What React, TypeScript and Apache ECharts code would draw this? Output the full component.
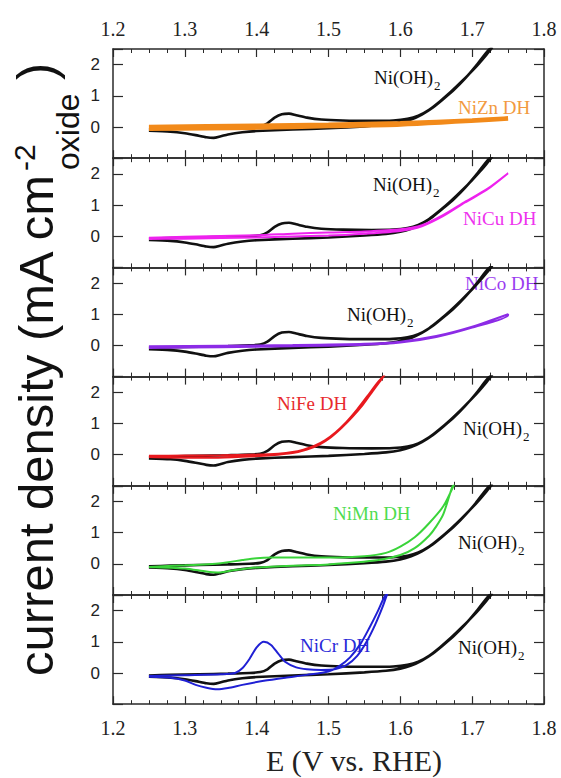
import React, { useEffect, useRef } from 'react';
import * as echarts from 'echarts';

const xTickLabels = ['1.2', '1.3', '1.4', '1.5', '1.6', '1.7', '1.8'];
const yTickLabels = ['0', '1', '2'];
const panelNames = ['NiZn DH', 'NiCu DH', 'NiCo DH', 'NiFe DH', 'NiMn DH', 'NiCr DH'];
const panelColors = ['#f28a1a', '#ee22ee', '#8c2be6', '#e8191e', '#3ad43a', '#2020d4'];
const panelLabelColors = ['#f29a40', '#ee33ee', '#9a3cf0', '#e82a2e', '#4fdc4f', '#2a2ad8'];

// Ni(OH)2 reference CV (same in every panel), E (V) vs current density
const niOH2: [number, number][] = [
  [1.25, -0.08], [1.28, -0.06], [1.32, -0.04], [1.36, -0.02], [1.39, 0.0], [1.405, 0.03],
  [1.415, 0.12], [1.425, 0.3], [1.435, 0.41], [1.445, 0.43], [1.455, 0.38], [1.47, 0.3],
  [1.49, 0.24], [1.52, 0.21], [1.56, 0.2], [1.59, 0.21], [1.61, 0.26], [1.625, 0.36],
  [1.64, 0.55], [1.655, 0.82], [1.67, 1.12], [1.685, 1.45], [1.7, 1.8], [1.71, 2.05],
  [1.72, 2.32], [1.728, 2.55],
  [1.722, 2.45], [1.705, 1.95], [1.69, 1.55], [1.675, 1.2], [1.66, 0.9], [1.645, 0.62],
  [1.63, 0.4], [1.615, 0.24], [1.6, 0.14], [1.58, 0.07], [1.55, 0.02], [1.5, -0.04],
  [1.45, -0.08], [1.4, -0.13], [1.38, -0.17], [1.36, -0.24], [1.35, -0.3], [1.34, -0.35],
  [1.33, -0.33], [1.315, -0.26], [1.3, -0.2], [1.28, -0.15], [1.25, -0.12],
];

const niZn: [number, number][] = [
  [1.25, 0.0], [1.4, 0.04], [1.5, 0.07], [1.6, 0.12], [1.7, 0.21], [1.75, 0.27],
  [1.75, 0.25], [1.6, 0.08], [1.5, 0.03], [1.4, -0.02], [1.25, -0.06],
];

const niCu: [number, number][] = [
  [1.25, -0.05], [1.3, -0.02], [1.4, 0.03], [1.45, 0.08], [1.5, 0.12], [1.55, 0.15],
  [1.6, 0.22], [1.63, 0.35], [1.66, 0.68], [1.69, 1.1], [1.72, 1.5], [1.75, 2.02],
  [1.75, 2.0], [1.72, 1.48], [1.69, 1.08], [1.66, 0.65], [1.63, 0.32], [1.6, 0.17],
  [1.55, 0.08], [1.5, 0.02], [1.4, -0.04], [1.3, -0.08], [1.25, -0.09],
];

const niCo: [number, number][] = [
  [1.25, -0.03], [1.35, -0.01], [1.45, 0.01], [1.55, 0.05], [1.6, 0.12], [1.65, 0.3],
  [1.7, 0.6], [1.75, 1.0],
  [1.75, 0.97], [1.7, 0.57], [1.65, 0.27], [1.6, 0.09], [1.55, 0.02], [1.45, -0.03],
  [1.35, -0.06], [1.25, -0.08],
];

const niFe: [number, number][] = [
  [1.25, -0.04], [1.3, -0.03], [1.35, -0.02], [1.4, 0.0], [1.43, 0.03], [1.45, 0.08],
  [1.465, 0.16], [1.48, 0.28], [1.495, 0.46], [1.51, 0.72], [1.525, 1.05], [1.54, 1.45],
  [1.555, 1.9], [1.568, 2.3], [1.578, 2.55],
  [1.575, 2.45], [1.562, 2.05], [1.548, 1.6], [1.533, 1.2], [1.518, 0.85], [1.503, 0.55],
  [1.488, 0.33], [1.47, 0.16], [1.45, 0.05], [1.42, -0.02], [1.38, -0.07], [1.34, -0.1],
  [1.3, -0.1], [1.25, -0.08],
];

const niMn: [number, number][] = [
  [1.25, -0.1], [1.3, -0.05], [1.35, 0.02], [1.38, 0.12], [1.4, 0.18], [1.42, 0.2],
  [1.45, 0.2], [1.5, 0.2], [1.55, 0.24], [1.58, 0.35], [1.6, 0.55], [1.62, 0.85],
  [1.64, 1.3], [1.66, 1.85], [1.675, 2.55],
  [1.672, 2.45], [1.66, 1.6], [1.65, 1.2], [1.64, 0.9], [1.62, 0.5], [1.6, 0.28],
  [1.57, 0.12], [1.5, -0.02], [1.45, -0.06], [1.4, -0.12], [1.37, -0.2], [1.345, -0.28],
  [1.33, -0.25], [1.3, -0.15], [1.25, -0.1],
];

const niCr: [number, number][] = [
  [1.25, -0.1], [1.3, -0.07], [1.35, -0.04], [1.37, 0.0], [1.38, 0.15], [1.39, 0.45],
  [1.4, 0.82], [1.41, 1.0], [1.42, 0.9], [1.43, 0.62], [1.44, 0.35], [1.455, 0.18],
  [1.47, 0.12], [1.49, 0.1], [1.51, 0.13], [1.525, 0.25], [1.54, 0.55], [1.553, 1.0],
  [1.565, 1.55], [1.575, 2.1], [1.582, 2.55],
  [1.578, 2.45], [1.568, 1.95], [1.557, 1.45], [1.545, 0.95], [1.53, 0.5], [1.515, 0.22],
  [1.5, 0.05], [1.47, -0.06], [1.44, -0.15], [1.41, -0.25], [1.38, -0.38], [1.36, -0.48],
  [1.345, -0.52], [1.33, -0.47], [1.315, -0.38], [1.3, -0.24], [1.28, -0.15], [1.25, -0.12],
];

const panelData = [niZn, niCu, niCo, niFe, niMn, niCr];
const panelWidths = [4.5, 2, 2, 2, 2, 2];

// label placements (pixel) : [doped label left, center y, Ni(OH)2 left, center y]
const labelPos: [number, number, number, number][] = [
  [458, 107, 374, 77],
  [463, 218, 373, 184],
  [465, 283, 347, 314],
  [277, 403, 463, 428],
  [333, 513, 458, 542],
  [300, 645, 458, 647],
];

const TOP = 49;
const PH = 109.2;
const LEFT = 113;
const RIGHT = 17;
const SERIF = "'Liberation Serif', 'Times New Roman', serif";
const SANS = "'Liberation Sans', Arial, sans-serif";
const AX = '#2a2a2a';

function measure(text: string, size: number, family: string): number {
  const c = document.createElement('canvas').getContext('2d');
  if (!c) return text.length * size * 0.5;
  c.font = `${size}px ${family}`;
  return c.measureText(text).width;
}

export default function App() {
  const ref = useRef<HTMLDivElement>(null);
  useEffect(() => {
    const chart = echarts.init(ref.current!, undefined, { renderer: 'svg' });
    const grid: any[] = [];
    const xAxis: any[] = [];
    const yAxis: any[] = [];
    const series: any[] = [];
    const graphic: any[] = [];
    const niW = measure('Ni(OH)', 19, SERIF);
    for (let i = 0; i < 6; i++) {
      grid.push({ left: LEFT, right: RIGHT, top: TOP + i * PH, height: PH });
      const xa = (pos: string, showLabel: boolean, margin: number) => ({
        type: 'value', gridIndex: i, position: pos, min: 1.2, max: 1.8, interval: 0.1,
        axisLine: { show: true, onZero: false, lineStyle: { color: AX, width: 1.5 } },
        axisTick: { show: true, inside: true, length: 8, lineStyle: { color: AX, width: 1.2 } },
        minorTick: { show: true, splitNumber: 4, length: 4, lineStyle: { color: AX, width: 1 } },
        splitLine: { show: false },
        axisLabel: {
          show: showLabel, margin, fontFamily: SERIF, fontSize: 20, color: '#222',
          formatter: (v: number) => xTickLabels[Math.round((v - 1.2) / 0.1)] ?? '',
        },
      });
      xAxis.push(xa('bottom', i === 5, 14));
      xAxis.push(xa('top', i === 0, 10));
      const ya = (pos: string, showLabel: boolean) => ({
        type: 'value', gridIndex: i, position: pos, min: -1, max: 2.5, interval: 1,
        axisLine: { show: true, onZero: false, lineStyle: { color: AX, width: 1.5 } },
        axisTick: { show: true, inside: true, length: 10, lineStyle: { color: AX, width: 1.2 } },
        splitLine: { show: false },
        axisLabel: {
          show: showLabel, margin: 13, fontFamily: SANS, fontSize: 17, color: '#222',
          formatter: (v: number) => (v >= 0 ? yTickLabels[Math.round(v)] ?? '' : ''),
        },
      });
      yAxis.push(ya('left', true));
      yAxis.push(ya('right', false));
      series.push({
        type: 'line', xAxisIndex: 2 * i, yAxisIndex: 2 * i, data: niOH2, showSymbol: false,
        smooth: 0.25, clip: true, lineStyle: { color: '#111', width: 2.6 }, z: 2,
      });
      series.push({
        type: 'line', xAxisIndex: 2 * i, yAxisIndex: 2 * i, data: panelData[i], showSymbol: false,
        smooth: 0.25, clip: true, lineStyle: { color: panelColors[i], width: panelWidths[i] }, z: 3,
      });
      const [dx, dy, nx, ny] = labelPos[i];
      graphic.push({
        type: 'text', x: dx, y: dy,
        style: { text: panelNames[i], fontFamily: SERIF, fontSize: 19, fill: panelLabelColors[i], align: 'left', verticalAlign: 'middle' },
      });
      graphic.push({
        type: 'text', x: nx, y: ny,
        style: { text: 'Ni(OH)', fontFamily: SERIF, fontSize: 19, fill: '#111', align: 'left', verticalAlign: 'middle' },
      });
      graphic.push({
        type: 'text', x: nx + niW + 1, y: ny + 8,
        style: { text: '2', fontFamily: SERIF, fontSize: 13, fill: '#111', align: 'left', verticalAlign: 'middle' },
      });
    }
    graphic.push({
      type: 'text', x: 354, y: 760,
      style: { text: 'E (V vs. RHE)', fontFamily: SERIF, fontSize: 30, fill: '#222', align: 'center', verticalAlign: 'middle' },
    });
    graphic.push({
      type: 'group', x: 36, y: 676, rotation: Math.PI / 2,
      children: [
        { type: 'text', x: 0, y: 0, style: { text: 'current density (mA cm', fontFamily: SANS, fontSize: 49, fill: '#111', align: 'left', verticalAlign: 'middle' } },
        { type: 'text', x: 505, y: -12, style: { text: '-2', fontFamily: SANS, fontSize: 30, fill: '#111', align: 'left', verticalAlign: 'middle' } },
        { type: 'text', x: 506, y: 32, style: { text: 'oxide', fontFamily: SANS, fontSize: 32, fill: '#111', align: 'left', verticalAlign: 'middle' } },
        { type: 'text', x: 596, y: 0, style: { text: ')', fontFamily: SANS, fontSize: 52, fill: '#111', align: 'left', verticalAlign: 'middle' } },
      ],
    });
    chart.setOption({
      animation: false,
      backgroundColor: '#fff',
      grid, xAxis, yAxis, series, graphic,
    });
    return () => chart.dispose();
  }, []);
  return <div ref={ref} style={{ position: 'absolute', left: 0, top: 0, width: 561, height: 778 }} />;
}
